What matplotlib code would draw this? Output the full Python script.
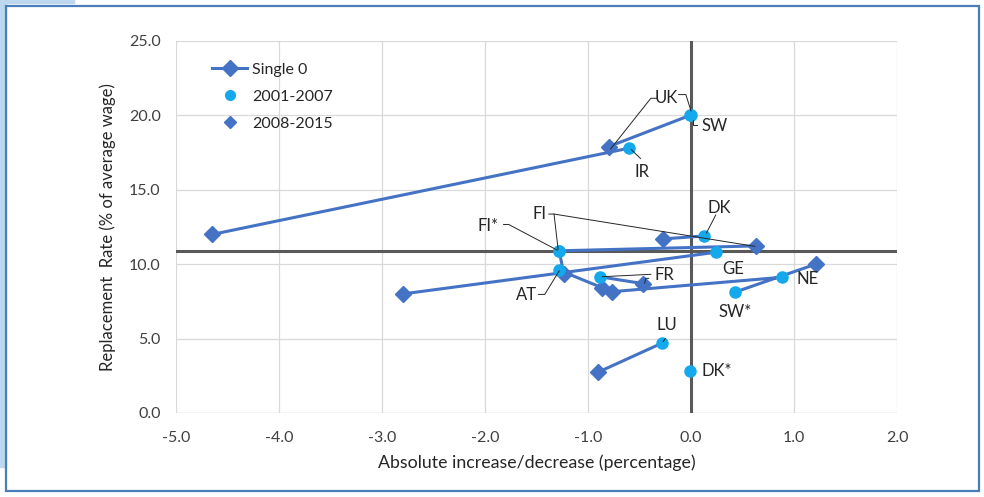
import numpy as np
import matplotlib
matplotlib.use("Agg")
import matplotlib.pyplot as plt
from matplotlib.lines import Line2D
from matplotlib.patches import Rectangle

plt.rcParams['font.family'] = ['Lato', 'DejaVu Sans']

# country pairs: 2001-2007 point -> 2008-2015 point
countries = ['UK', 'SW', 'IR', 'DK', 'FI', 'FI*', 'GE', 'AT', 'FR', 'NE', 'SW*', 'LU', 'DK*']
x_0107 = [-0.01, 0.00, -0.60, 0.13, -1.28, -1.28, 0.24, -1.28, -0.88, 0.88, 0.43, -0.28, -0.01]
y_0107 = [20.0, 20.0, 17.8, 11.9, 10.9, 10.9, 10.8, 9.6, 9.15, 9.12, 8.13, 4.7, 2.85]
x_0815 = [-0.80, np.nan, -4.65, -0.27, 0.635, -1.235, -2.80, -0.86, -0.47, -0.77, 1.21, -0.90, np.nan]
y_0815 = [17.9, np.nan, 12.0, 11.7, 11.23, 9.36, 8.0, 8.41, 8.70, 8.15, 10.0, 2.75, np.nan]

ref_x = 0.0
ref_y = 10.9

xticks = [-5.0, -4.0, -3.0, -2.0, -1.0, 0.0, 1.0, 2.0]
yticks = [0.0, 5.0, 10.0, 15.0, 20.0, 25.0]

blue = '#4472C4'
cyan = '#14A9EC'

fig = plt.figure(figsize=(9.84, 4.97), dpi=100)
ax = fig.add_axes([176 / 984, 84 / 497, 721 / 984, 372 / 497])

# outer frame
fig.patches.append(Rectangle((0, 0.06), 0.006, 0.94, transform=fig.transFigure,
                             color='#bdd7ee', zorder=0))
fig.patches.append(Rectangle((0, 0.993), 0.075, 0.007, transform=fig.transFigure,
                             color='#bdd7ee', zorder=0))
fig.patches.append(Rectangle((6 / 984, 6 / 497), 973 / 984, 485 / 497, transform=fig.transFigure,
                             fill=False, edgecolor='#4a7ebb', linewidth=1.6, zorder=1))

ax.set_xlim(-5, 2)
ax.set_ylim(0, 25)
ax.set_xticks(xticks)
ax.set_yticks(yticks)
ax.set_xticklabels(['%.1f' % v for v in xticks], fontsize=11.5, color='#404040')
ax.set_yticklabels(['%.1f' % v for v in yticks], fontsize=11.5, color='#404040')
ax.tick_params(length=0, pad=13)
ax.tick_params(axis='y', pad=11)
ax.grid(True, color='#d9d9d9', linewidth=0.9)
ax.set_axisbelow(True)
for s in ax.spines.values():
    s.set_visible(False)
ax.axhline(0, color='#d9d9d9', linewidth=0.9, zorder=0.5)

ax.axvline(ref_x, color='#595959', linewidth=2.2, zorder=1.5)
ax.axhline(ref_y, color='#595959', linewidth=2.2, zorder=1.5)

# connecting line, one segment per country
lx, ly = [], []
for a, b, c, d in zip(x_0107, y_0107, x_0815, y_0815):
    if np.isnan(c):
        continue
    lx += [a, c, np.nan]
    ly += [b, d, np.nan]
ax.plot(lx, ly, color=blue, linewidth=2.2, zorder=2, solid_capstyle='round')

ax.plot(x_0815, y_0815, linestyle='none', marker='D', markersize=8, color=blue, zorder=3)
ax.plot(x_0107, y_0107, linestyle='none', marker='o', markersize=8, color=cyan, zorder=4)

# labels and leader lines
labels = {
    'UK': (-0.24, 21.15), 'SW': (0.23, 19.3), 'IR': (-0.48, 16.2), 'DK': (0.27, 13.8),
    'FI': (-1.47, 13.37), 'FI*': (-1.97, 12.6), 'AT': (-1.60, 7.9), 'FR': (-0.26, 9.27),
    'GE': (0.405, 9.66), 'NE': (1.13, 8.98), 'SW*': (0.43, 6.76), 'LU': (-0.235, 5.93),
    'DK*': (0.25, 2.84),
}
for name, (tx, ty) in labels.items():
    ax.text(tx, ty, name, fontsize=12, ha='center', va='center', color='#262626', zorder=5)

leaders = [
    [(-0.33, 21.15), (-0.39, 21.15), (-0.78, 17.75)],
    [(-0.12, 21.4), (-0.05, 21.4), (0.0, 20.3)],
    [(0.02, 19.7), (0.02, 19.35), (0.06, 19.35)],
    [(-0.49, 17.1), (-0.58, 17.7)],
    [(0.24, 13.3), (0.15, 12.1)],
    [(-1.38, 13.37), (-1.33, 13.37), (-1.29, 11.0)],
    [(-1.33, 13.37), (0.62, 11.2)],
    [(-1.82, 12.67), (-1.77, 12.67), (-1.30, 10.95)],
    [(-1.48, 7.97), (-1.42, 7.97), (-1.28, 9.55)],
    [(-0.39, 9.32), (-0.86, 9.16)],
    [(-0.41, 9.05), (-0.44, 9.05), (-0.45, 8.72)],
    [(-0.25, 5.0), (-0.27, 4.8)],
]
for pts in leaders:
    px, py = zip(*pts)
    ax.plot(px, py, color='#262626', linewidth=0.7, zorder=4.5)

ax.set_xlabel('Absolute increase/decrease (percentage)', fontsize=12.8, color='#262626', labelpad=7)
ax.set_ylabel('Replacement  Rate (% of average wage)', fontsize=12, color='#262626', labelpad=9)

handles = [
    Line2D([], [], color=blue, linewidth=2.2, marker='D', markersize=8),
    Line2D([], [], linestyle='none', marker='o', markersize=7, color=cyan),
    Line2D([], [], linestyle='none', marker='D', markersize=6, color=blue),
]
ax.legend(handles, ['Single 0', '2001-2007', '2008-2015'], loc='upper left',
          bbox_to_anchor=(0.03, 0.98), frameon=False, fontsize=11.5, handlelength=2.2,
          handletextpad=0.3, labelspacing=0.8, labelcolor='#262626')

fig.savefig('out.png', dpi=100)
